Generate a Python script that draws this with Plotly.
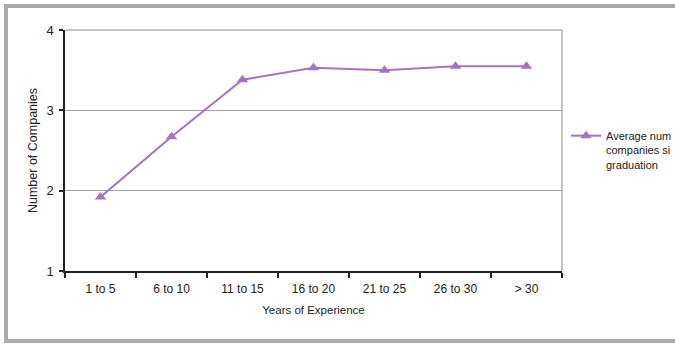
import plotly.graph_objects as go

# Average number of companies worked for, by years of experience
experience = ["1 to 5", "6 to 10", "11 to 15", "16 to 20", "21 to 25", "26 to 30", "> 30"]
avg_companies = [1.92, 2.67, 3.38, 3.53, 3.50, 3.55, 3.55]
series_name = "Average num<br>companies si<br>graduation"
y_ticks = [1, 2, 3, 4]

PURPLE = "#a274c4"
FONT = "Liberation Sans, Arial, sans-serif"

W, H = 675, 344
L, R, T, B = 65, 562, 30, 271  # plot area in pixels


def px_x(x):
    return (x - L) / (R - L)


def px_y(y):
    return (B - y) / (B - T)


fig = go.Figure()
fig.add_trace(go.Scatter(
    x=experience,
    y=avg_companies,
    mode="lines+markers",
    name=series_name,
    line=dict(color=PURPLE, width=2),
    marker=dict(symbol="triangle-up", size=10, color=PURPLE),
))

shapes = [
    # outer frame
    dict(type="rect", xref="paper", yref="paper",
         x0=px_x(6), x1=px_x(700), y0=px_y(341), y1=px_y(6),
         line=dict(color="#ababab", width=4), fillcolor="rgba(0,0,0,0)", layer="below"),
    # plot area top and right edges
    dict(type="line", xref="paper", yref="paper", x0=0, x1=1, y0=1, y1=1,
         line=dict(color="#8c8c8c", width=1)),
    dict(type="line", xref="paper", yref="paper", x0=1, x1=1, y0=0, y1=1,
         line=dict(color="#8c8c8c", width=1)),
]

fig.update_layout(
    width=W, height=H,
    margin=dict(l=L, r=W - R, t=T, b=H - B, pad=0, autoexpand=False),
    paper_bgcolor="white", plot_bgcolor="white",
    font=dict(family=FONT, size=12, color="#222222"),
    shapes=shapes,
    showlegend=True,
    legend=dict(x=px_x(566), y=px_y(122), xanchor="left", yanchor="top",
                font=dict(family=FONT, size=11, color="#222222"),
                valign="top", itemwidth=30, tracegroupgap=0,
                bgcolor="rgba(0,0,0,0)"),
    xaxis=dict(
        type="category",
        range=[-0.5, len(experience) - 0.5],
        showline=True, linecolor="#222222", linewidth=1.5,
        ticks="outside", ticklen=5, tickcolor="#222222", tickwidth=1.5,
        tickson="boundaries",
        showgrid=False, zeroline=False,
        tickfont=dict(size=12),
        ticklabelstandoff=6,
        title=dict(text="Years of Experience", font=dict(size=11.5), standoff=11),
    ),
    yaxis=dict(
        range=[1, 4], tickvals=y_ticks,
        showline=True, linecolor="#222222", linewidth=1.5,
        ticks="outside", ticklen=4, tickcolor="#222222", tickwidth=1.5,
        showgrid=True, gridcolor="#a0a0a0", gridwidth=1,
        zeroline=False,
        tickfont=dict(size=13),
        ticklabelstandoff=3,
        title=dict(text="Number of Companies", font=dict(size=12.5), standoff=6),
    ),
)

fig.write_html("out.html")
